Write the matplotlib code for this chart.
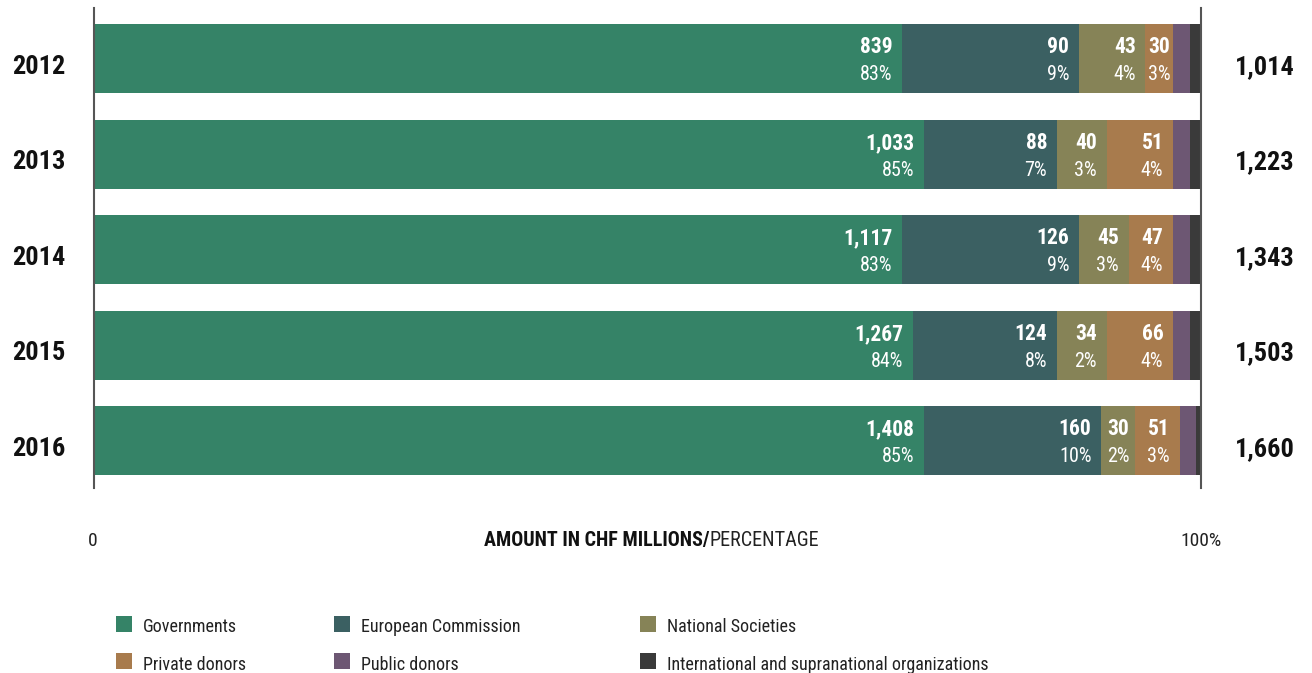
import matplotlib
matplotlib.use("Agg")
import matplotlib.pyplot as plt
import matplotlib.font_manager as fm
from matplotlib.patches import Rectangle

# ---------------- data ----------------
years = ["2012", "2013", "2014", "2015", "2016"]
categories = ["Governments", "European Commission", "National Societies",
              "Private donors", "Public donors",
              "International and supranational organizations"]
colors = ["#358367", "#3b6062", "#868357", "#a87b4d", "#6d5773", "#3a3a3a"]

# bar segment widths as drawn in the reference (share of full bar, %)
gov_share = [73, 75, 73, 74, 75]
ec_share = [16, 12, 16, 13, 16]
ns_share = [6, 4.5, 4.5, 4.5, 3.1]
priv_share = [2.5, 6, 4, 6, 4]
pub_share = [1.5, 1.5, 1.5, 1.5, 1.5]
intl_share = [1, 1, 1, 1, 0.4]

# labelled amounts (CHF millions) and percentages
gov_amount = [839, 1033, 1117, 1267, 1408]
ec_amount = [90, 88, 126, 124, 160]
ns_amount = [43, 40, 45, 34, 30]
priv_amount = [30, 51, 47, 66, 51]
gov_pct = [83, 85, 83, 84, 85]
ec_pct = [9, 7, 9, 8, 10]
ns_pct = [4, 3, 3, 2, 2]
priv_pct = [3, 4, 4, 4, 3]
totals = [1014, 1223, 1343, 1503, 1660]

shares = [gov_share, ec_share, ns_share, priv_share, pub_share, intl_share]
amounts = [gov_amount, ec_amount, ns_amount, priv_amount, None, None]
pcts = [gov_pct, ec_pct, ns_pct, priv_pct, None, None]

# ---------------- fonts ----------------
names = {f.name for f in fm.fontManager.ttflist}
family = "DejaVu Sans"
for cand in ["Roboto Condensed", "Liberation Sans Narrow", "Roboto", "Liberation Sans"]:
    if cand in names:
        family = cand
        break
plt.rcParams["font.family"] = [family, "DejaVu Sans"]

W, H = 1312, 673
fig = plt.figure(figsize=(W / 100, H / 100), dpi=100)
ax = fig.add_axes([94.3 / W, (H - 488) / H, (1200.7 - 94.3) / W, 480 / H])

ypos = list(range(len(years)))
bar_h = 0.7225
text_dark = "#111111"

lefts = [0.0] * len(years)
for k, cat in enumerate(categories):
    ax.barh(ypos, shares[k], left=lefts, height=bar_h, color=colors[k],
            linewidth=0, label=cat)
    if amounts[k] is not None:
        for i in ypos:
            w = shares[k][i]
            if w >= 4:
                x, ha, dx = lefts[i] + w, "right", -7
            else:
                x, ha, dx = lefts[i] + w / 2, "center", 0
            ax.annotate(f"{amounts[k][i]:,}", xy=(x, i), xytext=(dx, 3.7),
                        textcoords="offset points", ha=ha, va="baseline",
                        color="white", fontsize=15.5, fontweight="bold")
            ax.annotate(f"{pcts[k][i]}%", xy=(x, i), xytext=(dx, -15.5),
                        textcoords="offset points", ha=ha, va="baseline",
                        color="white", fontsize=14.5)
    lefts = [lefts[i] + shares[k][i] for i in ypos]

for i in ypos:
    ax.annotate(years[i], xy=(0, i), xytext=(-21, -11), textcoords="offset points",
                ha="right", va="baseline", fontsize=19, fontweight="bold",
                color=text_dark, annotation_clip=False)
    ax.annotate(f"{totals[i]:,}", xy=(100, i), xytext=(24.5, -11),
                textcoords="offset points", ha="left", va="baseline",
                fontsize=19, fontweight="bold", color=text_dark,
                annotation_clip=False)

ax.set_xlim(0, 100)
ax.set_ylim(4.497, -0.529)
ax.set_xticks([])
ax.set_yticks([])
for s in ["top", "bottom"]:
    ax.spines[s].set_visible(False)
for s in ["left", "right"]:
    ax.spines[s].set_color("#555555")
    ax.spines[s].set_linewidth(1.5)

# bottom axis texts
yb = (H - 546) / H
fig.text(93 / W, yb, "0", ha="center", va="baseline", fontsize=14, color="#222222")
fig.text(1201 / W, yb, "100%", ha="center", va="baseline", fontsize=14, color="#222222")
t1 = fig.text(0, yb, "AMOUNT IN CHF MILLIONS/", ha="left", va="baseline",
              fontsize=14.5, fontweight="bold", color=text_dark)
t2 = fig.text(0, yb, "PERCENTAGE", ha="left", va="baseline", fontsize=14.5,
              color="#222222")
r = fig.canvas.get_renderer()
w1 = t1.get_window_extent(r).width
w2 = t2.get_window_extent(r).width
x0 = 652 - (w1 + w2) / 2
t1.set_x(x0 / W)
t2.set_x((x0 + w1) / W)

# legend
col_x = [116, 334, 640]
row_y = [623.5, 661]
row_base = [632, 669.5]
for k, cat in enumerate(categories):
    c, rw = k % 3, k // 3
    fig.patches.append(Rectangle((col_x[c] / W, (H - row_y[rw] - 8) / H), 16 / W, 16 / H,
                                 transform=fig.transFigure, color=colors[k], lw=0))
    fig.text((col_x[c] + 27) / W, (H - row_base[rw]) / H, cat, ha="left",
             va="baseline", fontsize=13, color="#222222")

fig.savefig("out.png", dpi=100)
